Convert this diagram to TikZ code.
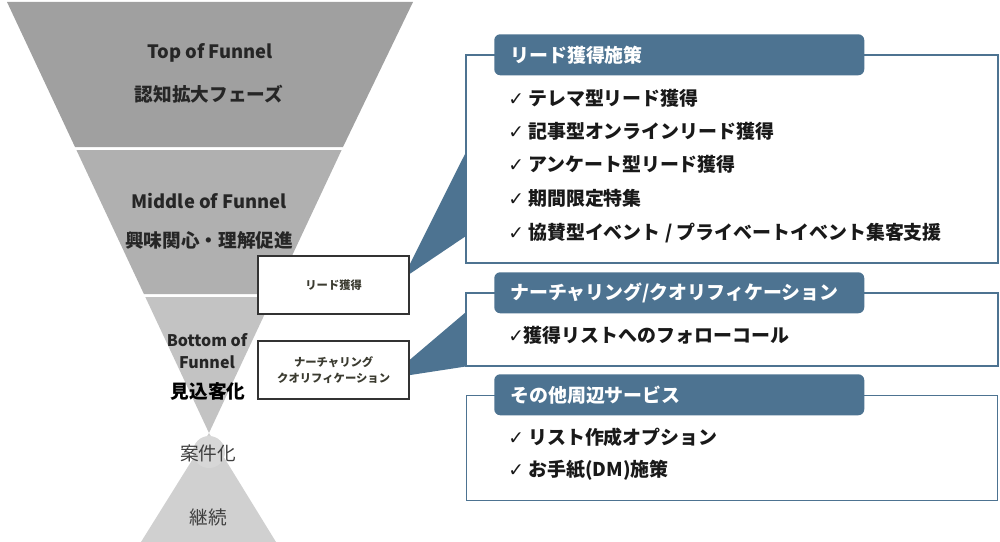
\documentclass[tikz,border=0pt]{standalone}
\usepackage{fontspec}
\setmainfont{Noto Sans CJK JP}
\newfontfamily\symf{DejaVu Sans}
\usetikzlibrary{calc}
\definecolor{bandA}{HTML}{A0A0A0}
\definecolor{bandB}{HTML}{B0B0B0}
\definecolor{bandC}{HTML}{C3C3C3}
\definecolor{bandD}{HTML}{D0D0D0}
\definecolor{steel}{HTML}{4D7391}
\definecolor{ftext}{HTML}{262626}
\definecolor{olive}{HTML}{3B3B30}
\newcommand{\chk}{{\symf\fontsize{14}{14}\selectfont ✓}}
\tikzset{
  ftitle/.style={font=\bfseries\fontsize{13.8}{15}\selectfont, text=ftext, inner sep=0pt},
  fjp/.style={font=\bfseries\fontsize{14}{16}\selectfont, text=ftext, inner sep=0pt},
  smallbox/.style={draw=black!80, line width=1pt, fill=white, minimum width=112.5pt, minimum height=42.75pt, inner sep=0pt, align=center, text=olive, font=\bfseries\fontsize{8.5}{12}\selectfont},
  bigbox/.style={draw=steel, line width=1.1pt, fill=white, inner sep=0pt},
  header/.style={fill=steel, rounded corners=4.5pt, inner sep=0pt},
  htext/.style={text=white, font=\bfseries\fontsize{14.2}{15}\selectfont, anchor=west, inner sep=0pt},
  item/.style={text=black!90, font=\bfseries\fontsize{14.2}{15}\selectfont, anchor=west, inner sep=0pt},
  wedge/.style={fill=steel}
}
\begin{document}
\begin{tikzpicture}[x=0.75pt,y=-0.75pt]
\useasboundingbox (0,0) rectangle (1000,542);
% funnel bands
\fill[bandA] (7,2) -- (413,2) -- (343,147) -- (75,147) -- cycle;
\fill[bandB] (76.4,150) -- (341.6,150) -- (274.1,294) -- (143.9,294) -- cycle;
\fill[bandC] (145.3,297) -- (272.7,297) -- (209,433) -- cycle;
\fill[bandD] (209,433) -- (276,542) -- (141,542) -- cycle;
\fill[bandD!85] (209,452) circle[radius=16];
% funnel texts
\node[ftitle] (t1) at (210,53) {Top of Funnel};
\node[fjp] (t2) at (209,94) {認知拡大フェーズ};
\node[ftitle] (m1) at (209,201) {Middle of Funnel};
\node[fjp] (m2) at (209,240) {興味関心・理解促進};
\node[ftitle, font=\bfseries\fontsize{12}{17}\selectfont, align=center] (b1) at (207,351) {Bottom of\\Funnel};
\node[fjp, text=black] (b2) at (208,391) {見込客化};
\node[fjp, font=\fontsize{14}{16}\selectfont, text=black!75] (c1) at (208,453) {案件化};
\node[fjp, font=\fontsize{14}{16}\selectfont, text=black!75] (c2) at (208,517) {継続};
% big boxes
\node[bigbox, minimum width=398.25pt, minimum height=155.25pt, anchor=north west] (bx1) at (466,55) {};
\node[bigbox, minimum width=398.25pt, minimum height=54pt, anchor=north west] (bx2) at (466,293) {};
\node[bigbox, minimum width=398.25pt, minimum height=78.75pt, anchor=north west] (bx3) at (466,395) {};
% small boxes
\node[smallbox, anchor=north west] (lead) at (258,256) {リード獲得};
\node[smallbox, anchor=north west] (nur) at (258,341) {ナーチャリング\\クオリフィケーション};
% wedges
\fill[wedge] ($(lead.east)+(0,-20)$) -- ($(bx1.north west)+(0,97)$) -- ($(bx1.north west)+(0,181)$) -- ($(lead.east)+(0,-11)$) -- cycle;
\fill[wedge] ($(nur.east)+(0,-10)$) -- ($(bx2.north west)+(0,19)$) -- ($(bx2.south west)+(0,0)$) -- ($(nur.east)+(0,5)$) -- cycle;
\draw[draw=steel, line width=1.1pt] (bx1.north west) rectangle (bx1.south east);
\draw[draw=steel, line width=1.1pt] (bx2.north west) rectangle (bx2.south east);
\draw[draw=black!80, line width=1pt] (lead.north west) rectangle (lead.south east);
\draw[draw=black!80, line width=1pt] (nur.north west) rectangle (nur.south east);
% headers
\node[header, minimum width=277.5pt, minimum height=30.75pt, anchor=north west] (h1) at (494,34) {};
\node[header, minimum width=277.5pt, minimum height=30.75pt, anchor=north west] (h2) at (494,272) {};
\node[header, minimum width=277.5pt, minimum height=30.75pt, anchor=north west] (h3) at (494,374) {};
\node[htext] (h1t) at ([xshift=12pt]h1.west) {リード獲得施策};
\node[htext] (h2t) at ([xshift=12pt]h2.west) {ナーチャリング/クオリフィケーション};
\node[htext] (h3t) at ([xshift=12pt]h3.west) {その他周辺サービス};
% items
\node[item] (i1) at (508,98) {\chk\ テレマ型リード獲得};
\node[item] (i2) at (508,131) {\chk\ 記事型オンラインリード獲得};
\node[item] (i3) at (508,164) {\chk\ アンケート型リード獲得};
\node[item] (i4) at (508,198) {\chk\ 期間限定特集};
\node[item] (i5) at (508,233) {\chk\ 協賛型イベント / プライベートイベント集客支援};
\node[item] (j1) at (508,335) {\chk{}獲得リストへのフォローコール};
\node[item] (k1) at (508,437) {\chk\ リスト作成オプション};
\node[item] (k2) at (508,470) {\chk\ お手紙(DM)施策};
\end{tikzpicture}
\end{document}
